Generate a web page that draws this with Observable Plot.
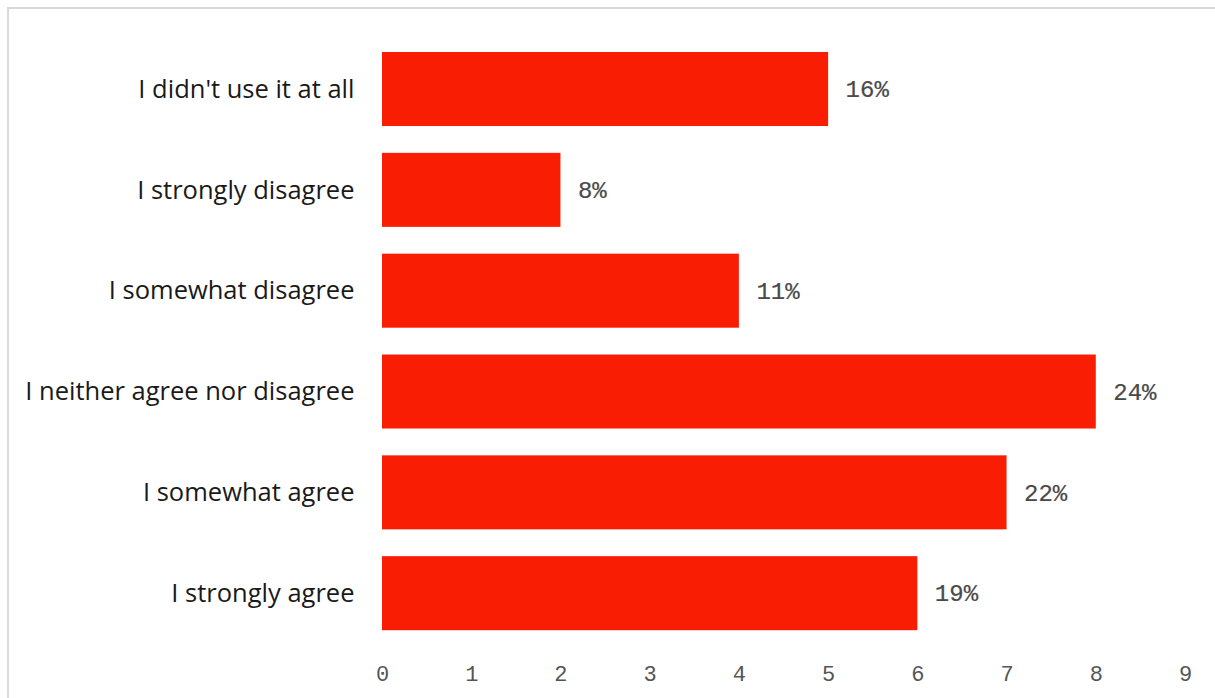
<!DOCTYPE html>
<html>
<head>
<meta charset="utf-8">
<script src="https://cdn.jsdelivr.net/npm/d3@7"></script>
<script src="https://cdn.jsdelivr.net/npm/@observablehq/plot@0.6"></script>
<style>
  html, body { margin: 0; padding: 0; background: #fff; }
  #wrap { position: relative; width: 1215px; height: 698px; overflow: hidden; }
  #frame { position: absolute; left: 7px; top: 7px; width: 1215px; height: 700px;
           border-top: 2px solid #d9d9d9; border-left: 2px solid #d9d9d9; pointer-events: none; }
</style>
</head>
<body>
<div id="wrap"><div id="frame"></div></div>
<script>
const categories = [
  "I didn't use it at all",
  "I strongly disagree",
  "I somewhat disagree",
  "I neither agree nor disagree",
  "I somewhat agree",
  "I strongly agree"
];
const counts = [5, 2, 4, 8, 7, 6];
const percentLabels = ["16%", "8%", "11%", "24%", "22%", "19%"];
const xTicks = [0, 1, 2, 3, 4, 5, 6, 7, 8, 9];

const data = categories.map((c, i) => ({category: c, value: counts[i], label: percentLabels[i]}));
const mono = "Liberation Mono, DejaVu Sans Mono, monospace";

const chart = Plot.plot({
  width: 1215,
  height: 698,
  marginLeft: 382,
  marginRight: 30,
  marginTop: 38.6,
  marginBottom: 54.4,
  style: {background: "transparent", overflow: "visible"},
  x: {domain: [0, 9], ticks: xTicks, label: null},
  y: {domain: categories, paddingInner: 0.266, paddingOuter: 0.133, round: false, label: null},
  marks: [
    Plot.barX(data, {x: "value", y: "category", fill: "#f91d04"}),
    Plot.text(data, {x: "value", y: "category", text: "label", textAnchor: "start", dx: 17,
      fontFamily: mono, fontSize: 24, fill: "#4a4a4a", stroke: "#4a4a4a", strokeWidth: 0.2}),
    Plot.axisX({ticks: xTicks, tickSize: 0, tickPadding: 21, tickFormat: d => String(d),
      fontFamily: mono, fontSize: 22, fill: "#555555", stroke: "#555555", strokeWidth: 0.2, label: null}),
    Plot.axisY({tickSize: 0, tickPadding: 28, fontFamily: "Open Sans, Noto Sans, sans-serif",
      fontSize: 25.5, fill: "#1a1a1a", label: null})
  ]
});
document.getElementById("wrap").insertBefore(chart, document.getElementById("frame"));
</script>
</body>
</html>
